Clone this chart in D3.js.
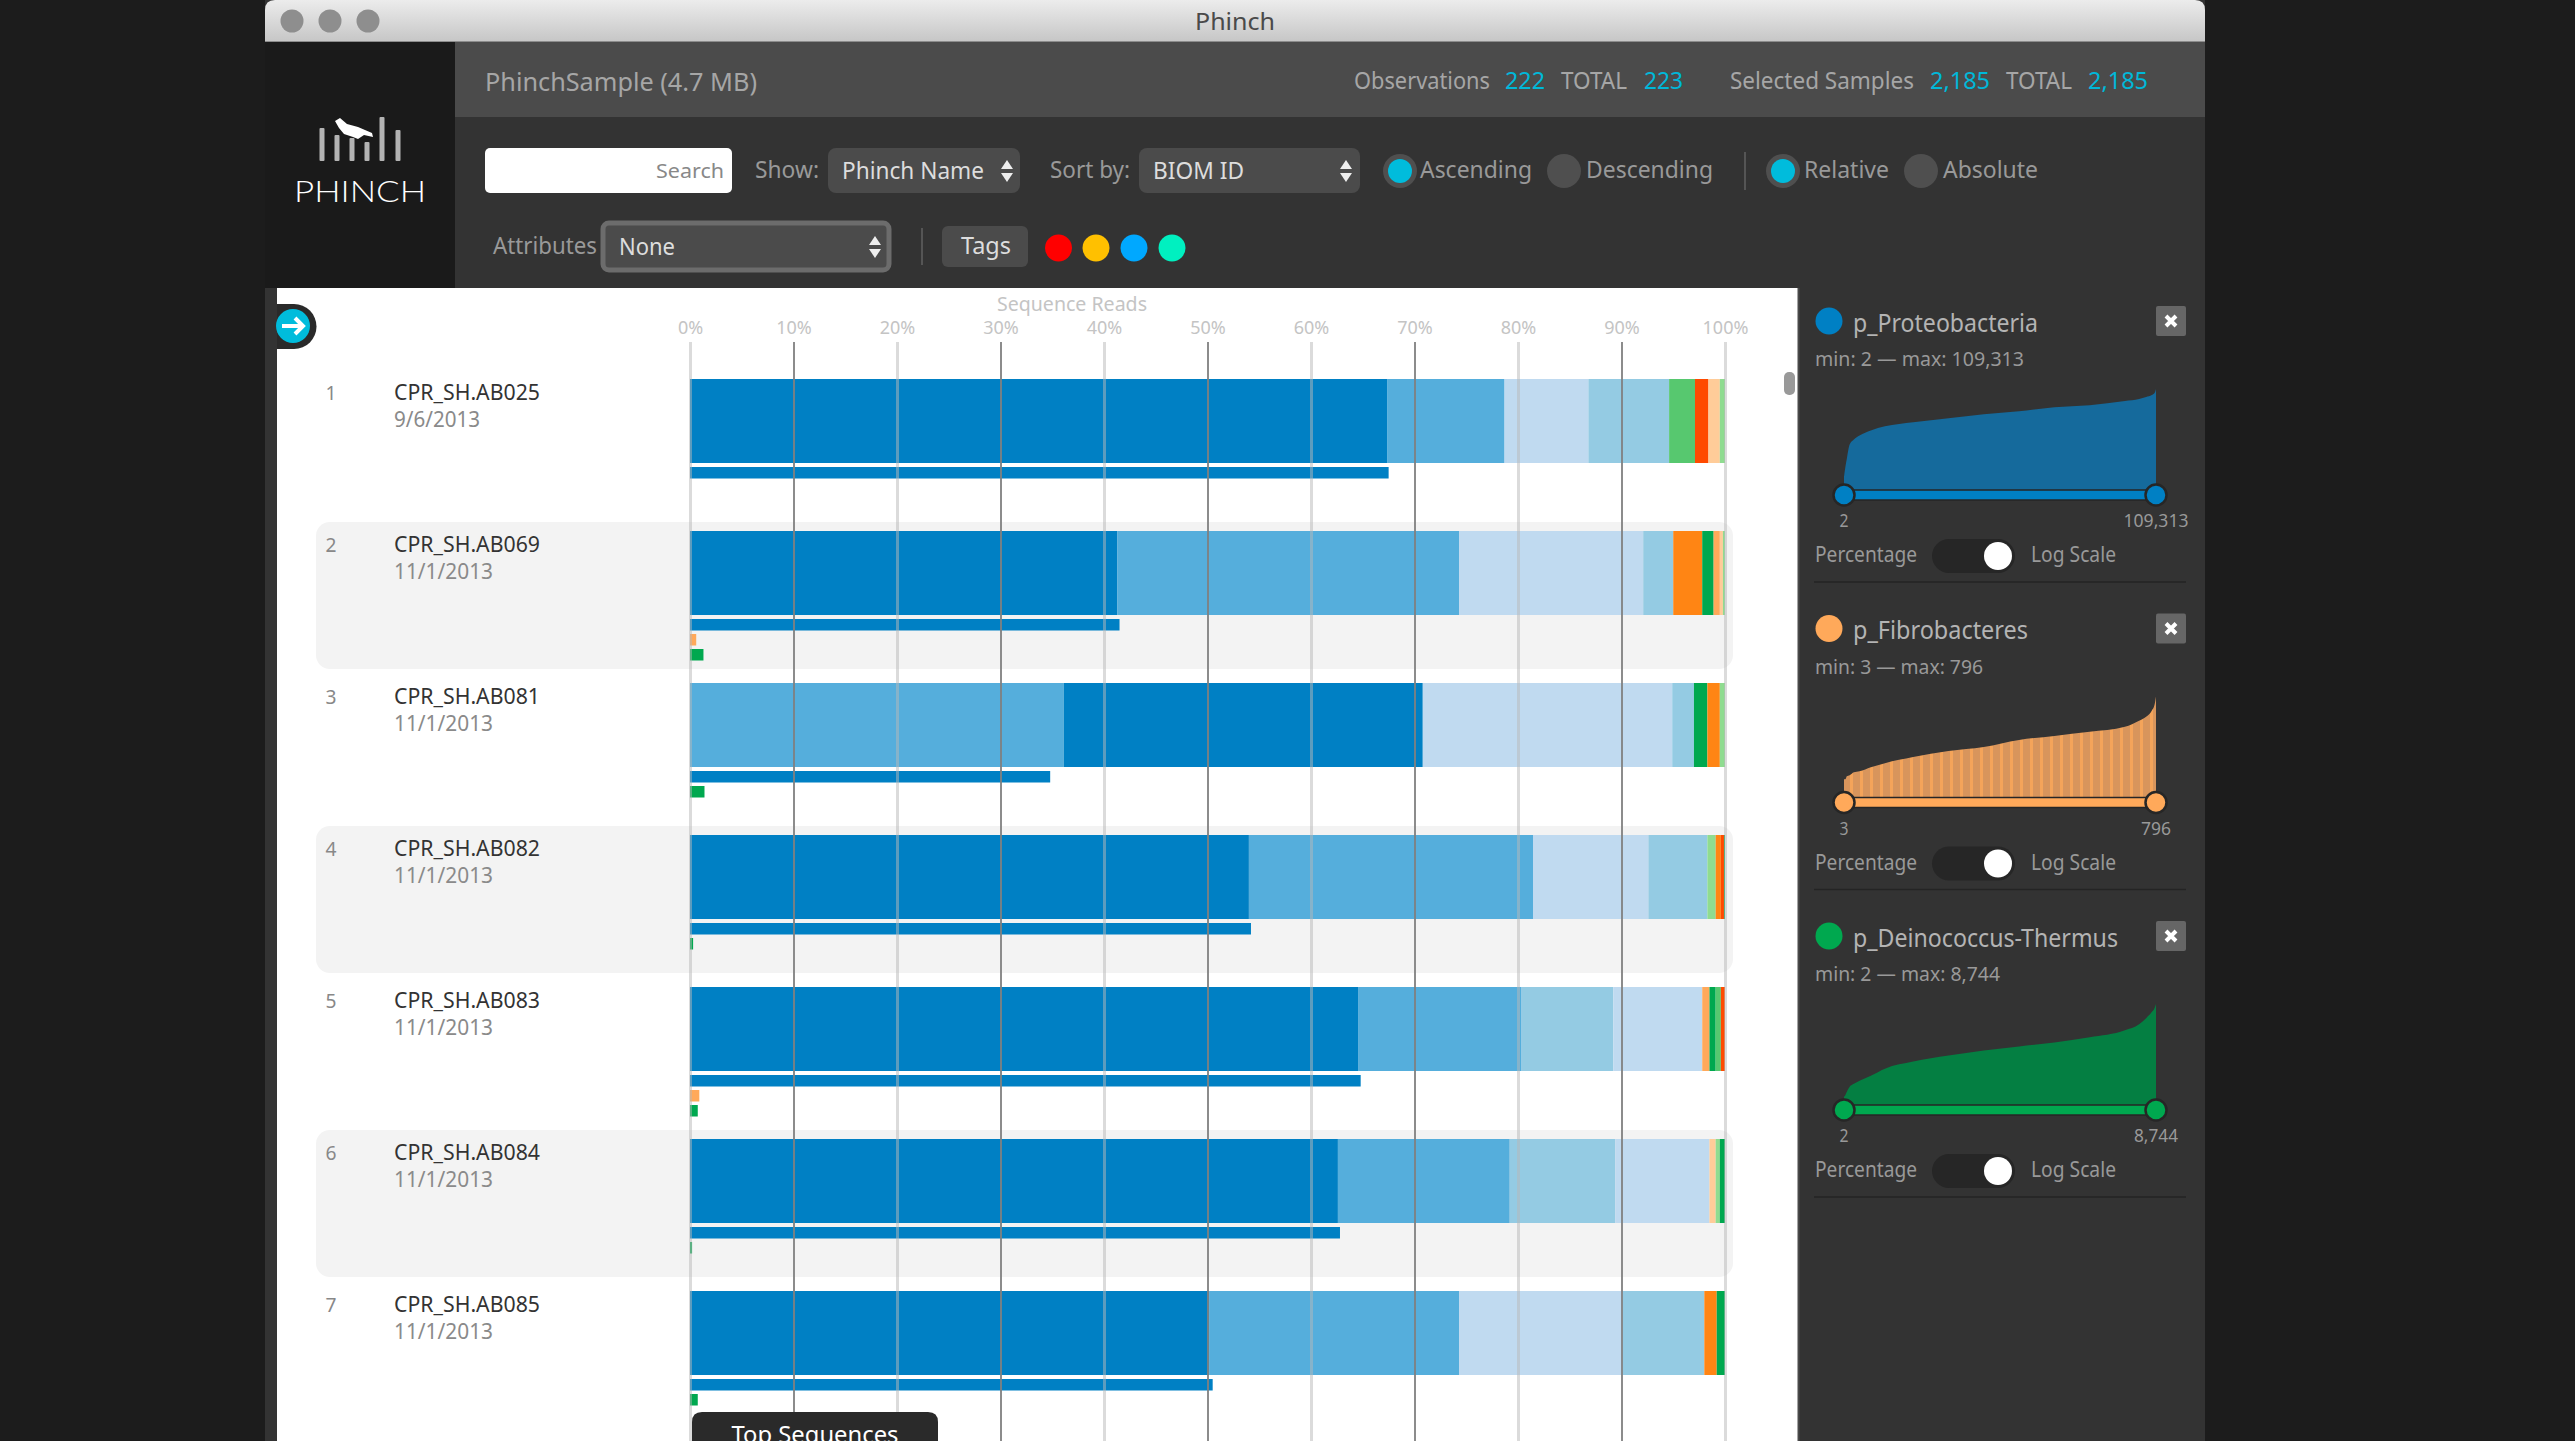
<!DOCTYPE html>
<html>
<head>
<meta charset="utf-8">
<title>Phinch</title>
<script src="https://cdnjs.cloudflare.com/ajax/libs/d3/7.8.5/d3.min.js"></script>
<style>
  html, body { margin: 0; padding: 0; background: #1c1c1c; overflow: hidden; }
  svg { display: block; }
  text { font-family: "Noto Sans", "Open Sans", sans-serif; }
</style>
</head>
<body>
<div id="chart"></div>
<script>
// Chart values
var sampleNames = ["CPR_SH.AB025", "CPR_SH.AB069", "CPR_SH.AB081", "CPR_SH.AB082", "CPR_SH.AB083", "CPR_SH.AB084", "CPR_SH.AB085"];
var sampleDates = ["9/6/2013", "11/1/2013", "11/1/2013", "11/1/2013", "11/1/2013", "11/1/2013", "11/1/2013"];

// each sample: taxa in bar order and their share of reads (%)
var sampleTaxa = [
  ["proteo", "blue2", "blue3", "blue4", "green2", "red", "peach", "green3"],
  ["proteo", "blue2", "blue3", "blue4", "orange", "deino", "fibro", "peach", "green3"],
  ["blue2", "proteo", "blue3", "blue4", "deino", "orange", "green3"],
  ["proteo", "blue2", "blue3", "blue4", "green3", "orange", "red", "deino"],
  ["proteo", "blue2", "blue4", "blue3", "fibro", "deino", "green2", "red"],
  ["proteo", "blue2", "blue4", "blue3", "peach", "green3", "deino"],
  ["proteo", "blue2", "blue3", "blue4", "orange", "deino"]
];
var sampleShares = [
  [67.35, 11.35, 8.1, 7.8, 2.5, 1.3, 1.1, 0.5],
  [41.3, 33.0, 17.8, 2.9, 2.8, 1.1, 0.6, 0.3, 0.2],
  [36.1, 34.7, 24.1, 2.1, 1.3, 1.2, 0.5],
  [54.0, 27.45, 11.15, 5.7, 0.8, 0.5, 0.3, 0.1],
  [64.6, 15.75, 8.85, 8.6, 0.7, 0.6, 0.5, 0.4],
  [62.6, 16.6, 10.2, 9.1, 0.6, 0.4, 0.5],
  [50.2, 24.1, 15.8, 7.9, 1.2, 0.8]
];

// filtered taxa drawn under each bar (%)
var proteoReads = [67.5, 41.5, 34.8, 54.2, 64.8, 62.8, 50.5];
var fibroReads = [0, 0.6, 0, 0, 0.9, 0, 0];
var deinoReads = [0, 1.3, 1.4, 0.3, 0.75, 0.2, 0.75];

var percentTicks = [0, 10, 20, 30, 40, 50, 60, 70, 80, 90, 100];

// side panels: sorted abundance curves, height as % of the plot at each sample rank
var curveRanks = [1, 2, 3, 5, 8, 12, 20, 30, 50, 75, 100, 125, 150, 175, 200, 210, 215, 219, 221, 222];
var proteoCurve = [13, 23, 31, 45, 50, 54, 59, 63, 67, 71, 75, 78, 82, 84, 88, 90, 92, 94, 96, 100];
var fibroCurve = [18, 18, 21, 22, 25, 26, 30, 34, 40, 46, 50, 57, 61, 65, 70, 76, 80, 86, 92, 100];
var deinoCurve = [8, 10, 13, 18, 21, 24, 29, 36, 43, 49, 54, 58, 62, 67, 74, 80, 86, 92, 96, 100];

var panelNames = ["p_Proteobacteria", "p_Fibrobacteres", "p_Deinococcus-Thermus"];
var panelMins = ["2", "3", "2"];
var panelMaxes = ["109,313", "796", "8,744"];

var taxaKeys = ["proteo", "blue2", "blue3", "blue4", "green2", "green3", "red", "peach", "orange", "deino", "fibro"];
var taxaColors = ["#0080c4", "#55aedc", "#c0daf0", "#94cbe3", "#57c86f", "#8fdc90", "#ff4a00", "#ffcc99", "#ff8514", "#00a84f", "#ffa95a"];
var color = d3.scaleOrdinal().domain(taxaKeys).range(taxaColors);

// Set up SVG frame
var svgWidth = 2575;
var svgHeight = 1441;

var svg = d3.select("#chart")
            .append("svg")
            .attr("width", svgWidth)
            .attr("height", svgHeight);

var defs = svg.append("defs");

var titleGradient = defs.append("linearGradient")
  .attr("id", "titleGradient")
  .attr("x1", 0).attr("y1", 0).attr("x2", 0).attr("y2", 1);
titleGradient.append("stop").attr("offset", "0%").attr("stop-color", "#ececec");
titleGradient.append("stop").attr("offset", "100%").attr("stop-color", "#c6c6c6");

var stripes = defs.append("pattern")
  .attr("id", "orangeStripes")
  .attr("patternUnits", "userSpaceOnUse")
  .attr("width", 10).attr("height", 10);
stripes.append("rect").attr("width", 10).attr("height", 10).attr("fill", "#d8955c");
stripes.append("rect").attr("width", 3).attr("height", 10).attr("fill", "#f4a45a");

// text helper, the width is forced to what the picture shows
function label(parent, str, x, y, size, fill, w, anchor) {
  var t = parent.append("text")
    .attr("x", x)
    .attr("y", y)
    .attr("dy", "0.35em")
    .attr("font-size", size + "px")
    .attr("fill", fill)
    .attr("text-anchor", anchor || "start")
    .text(str);
  if (w) {
    t.attr("textLength", w).attr("lengthAdjust", "spacingAndGlyphs");
  }
  return t;
}

function box(parent, x, y, w, h, r, fill) {
  return parent.append("rect")
    .attr("x", x).attr("y", y)
    .attr("width", w).attr("height", h)
    .attr("rx", r).attr("ry", r)
    .attr("fill", fill);
}

// Window chrome
box(svg, 265, 0, 1940, 1441, 0, "#333333");
svg.append("path")
  .attr("d", "M265,42 V10 Q265,0 275,0 H2195 Q2205,0 2205,10 V42 Z")
  .attr("fill", "url(#titleGradient)");
svg.append("line")
  .attr("x1", 265).attr("x2", 2205).attr("y1", 41.5).attr("y2", 41.5)
  .attr("stroke", "#8c8c8c").attr("stroke-width", 1);
[292, 330, 368].forEach(function(cx) {
  svg.append("circle").attr("cx", cx).attr("cy", 21).attr("r", 11.5).attr("fill", "#8e8e8e");
});
label(svg, "Phinch", 1235, 22, 24, "#4a4a4a", 80, "middle");

// Logo
box(svg, 265, 42, 190, 246, 0, "#1a1a1a");
var logoBars = svg.append("g");
[[322, 128], [337, 135], [352, 138], [367, 142], [382, 117], [398, 130]].forEach(function(b) {
  box(logoBars, b[0] - 2.5, b[1], 5, 161 - b[1], 1, "#b4b4b4");
});
svg.append("path")
  .attr("d", "M335,121 L340,118 L347,124 L358,127 L372,133 L373,137 L364,135 L358,139 L353,137 L344,134 L339,128 Z")
  .attr("fill", "#ffffff");
label(svg, "PHINCH", 294, 192, 29, "#ffffff", 132)
  .style("font-family", "Lato")
  .attr("font-weight", 300);

// Header bar
box(svg, 455, 42, 1750, 75, 0, "#4b4b4b");
label(svg, "PhinchSample (4.7 MB)", 485, 82, 25, "#a6a6a6", 272);
label(svg, "Observations", 1354, 81, 23, "#a6a6a6", 136);
label(svg, "222", 1505, 81, 23, "#00b8d9", 40);
label(svg, "TOTAL", 1561, 81, 23, "#a6a6a6", 66);
label(svg, "223", 1644, 81, 23, "#00b8d9", 39);
label(svg, "Selected Samples", 1730, 81, 23, "#a6a6a6", 184);
label(svg, "2,185", 1930, 81, 23, "#00b8d9", 60);
label(svg, "TOTAL", 2006, 81, 23, "#a6a6a6", 66);
label(svg, "2,185", 2088, 81, 23, "#00b8d9", 60);

// Controls
box(svg, 485, 148, 247, 45, 5, "#ffffff");
label(svg, "Search", 656, 171, 20, "#888888", 68);
label(svg, "Show:", 755, 170, 23, "#999999", 64);
box(svg, 828, 148, 192, 45, 8, "#4b4b4b");
label(svg, "Phinch Name", 842, 171, 24, "#dddddd", 142);
label(svg, "Sort by:", 1050, 170, 23, "#999999", 80);
box(svg, 1139, 148, 221, 45, 8, "#4b4b4b");
label(svg, "BIOM ID", 1153, 171, 24, "#dddddd", 91);

function selectArrows(cx, cy) {
  var g = svg.append("g").attr("fill", "#eeeeee");
  g.append("path").attr("d", `M${cx - 6},${cy - 2} L${cx},${cy - 11} L${cx + 6},${cy - 2} Z`);
  g.append("path").attr("d", `M${cx - 6},${cy + 2} L${cx},${cy + 11} L${cx + 6},${cy + 2} Z`);
}
selectArrows(1007, 171);
selectArrows(1346, 171);

function radio(cx, on) {
  svg.append("circle").attr("cx", cx).attr("cy", 171).attr("r", 17).attr("fill", "#4f4f4f");
  if (on) {
    svg.append("circle").attr("cx", cx).attr("cy", 171).attr("r", 12).attr("fill", "#00bcdc");
  }
}
radio(1400, true);
label(svg, "Ascending", 1420, 170, 23, "#999999", 112);
radio(1564, false);
label(svg, "Descending", 1586, 170, 23, "#999999", 127);
svg.append("line").attr("x1", 1745).attr("x2", 1745).attr("y1", 152).attr("y2", 190).attr("stroke", "#555555").attr("stroke-width", 2);
radio(1783, true);
label(svg, "Relative", 1804, 170, 23, "#999999", 85);
radio(1921, false);
label(svg, "Absolute", 1943, 170, 23, "#999999", 95);

label(svg, "Attributes", 493, 246, 23, "#999999", 104);
box(svg, 603, 223, 286, 47, 6, "#4b4b4b")
  .attr("stroke", "#6c6c6c").attr("stroke-width", 5);
label(svg, "None", 619, 247, 24, "#dddddd", 56);
selectArrows(875, 247);
svg.append("line").attr("x1", 922).attr("x2", 922).attr("y1", 228).attr("y2", 265).attr("stroke", "#555555").attr("stroke-width", 2);
box(svg, 942, 226, 86, 41, 6, "#4b4b4b");
label(svg, "Tags", 961, 246, 23, "#dddddd", 50);
[[1058.5, "#ff0000"], [1096, "#ffc000"], [1134, "#00a8ff"], [1172, "#00f0c0"]].forEach(function(d) {
  svg.append("circle").attr("cx", d[0]).attr("cy", 248).attr("r", 13.5).attr("fill", d[1]);
});

// Chart area
box(svg, 277, 288, 1521, 1153, 0, "#ffffff");
svg.append("line").attr("x1", 1798.5).attr("x2", 1798.5).attr("y1", 288).attr("y2", 1441).attr("stroke", "#4a4a4a").attr("stroke-width", 2);

var xScale = d3.scaleLinear().domain([0, 100]).range([690, 1725]);

var rowTop = 379;
var rowStep = 152;
var barHeight = 84;

var rowsGroup = svg.append("g");

var rows = rowsGroup.selectAll("g")
  .data(sampleNames)
  .enter()
  .append("g")
  .attr("transform", (d, i) => `translate(0, ${rowTop + i * rowStep})`);

rows.filter((d, i) => i % 2 === 1)
  .append("rect")
  .attr("x", 316)
  .attr("y", -9)
  .attr("width", 1417)
  .attr("height", 147)
  .attr("rx", 14)
  .attr("fill", "#f3f3f3");

rows.each(function(name, i) {
  var row = d3.select(this);

  label(row, String(i + 1), 331, 14, 20, "#888888", 11, "middle");
  label(row, name, 394, 13, 22, "#333333", 146);
  label(row, sampleDates[i], 394, 41, 21, "#8a8a8a", sampleDates[i].length === 8 ? 86 : 99);

  // stacked bar
  var ends = Array.from(d3.cumsum(sampleShares[i]));
  row.selectAll("rect.segment")
    .data(sampleTaxa[i])
    .enter()
    .append("rect")
    .attr("class", "segment")
    .attr("x", (t, j) => xScale(j === 0 ? 0 : ends[j - 1]))
    .attr("y", 0)
    .attr("width", (t, j) => xScale(ends[j]) - xScale(j === 0 ? 0 : ends[j - 1]))
    .attr("height", barHeight)
    .attr("fill", t => color(t));

  // filtered taxa under the bar, empty ones take no slot
  var filtered = [["proteo", proteoReads[i]], ["fibro", fibroReads[i]], ["deino", deinoReads[i]]]
    .filter(d => d[1] > 0);
  row.selectAll("rect.reads")
    .data(filtered)
    .enter()
    .append("rect")
    .attr("class", "reads")
    .attr("x", xScale(0))
    .attr("y", (d, j) => 88 + j * 15)
    .attr("width", d => xScale(d[1]) - xScale(0))
    .attr("height", 11.5)
    .attr("fill", d => color(d[0]));
});

// Axis labels
var topAxis = d3.axisTop(xScale)
  .tickValues(percentTicks)
  .tickFormat(d => d + "%")
  .tickSize(0)
  .tickPadding(8);

var axisGroup = svg.append("g")
  .attr("transform", "translate(0, 342)")
  .call(topAxis);
axisGroup.select(".domain").remove();
axisGroup.selectAll("text")
  .attr("fill", "#c4c4c4")
  .attr("font-size", "18px");

label(svg, "Sequence Reads", 1072, 304, 19, "#c4c4c4", 150, "middle");

// grid lines sit over the bars
var gridAxis = d3.axisBottom(xScale)
  .tickValues(percentTicks)
  .tickSize(1441 - 342)
  .tickFormat("");

var gridGroup = svg.append("g")
  .attr("class", "grid")
  .attr("transform", "translate(0, 342)")
  .call(gridAxis);
gridGroup.select(".domain").remove();
gridGroup.selectAll("line")
  .attr("stroke", (d, i) => i % 2 === 0 ? "#b8b8b8" : "#7f7f7f")
  .attr("stroke-opacity", (d, i) => i % 2 === 0 ? 0.5 : 0.9)
  .attr("stroke-width", (d, i) => i % 2 === 0 ? 3 : 2);

// Scroll thumb
box(svg, 1784, 372, 11, 23, 5, "#999999");

// Expand arrow
svg.append("path")
  .attr("d", "M277,304 H294 A22.5,22.5 0 0 1 294,349 H277 Z")
  .attr("fill", "#2a2a2a");
svg.append("circle").attr("cx", 293).attr("cy", 326).attr("r", 17).attr("fill", "#00bcdc");
svg.append("path")
  .attr("d", "M282,326 H303 M295,318 L303,326 L295,334")
  .attr("fill", "none")
  .attr("stroke", "#ffffff")
  .attr("stroke-width", 4);

// Top Sequences tab, cropped by the bottom of the window as in the picture
svg.append("path")
  .attr("d", "M692,1441 V1422 Q692,1412 702,1412 H928 Q938,1412 938,1422 V1441 Z")
  .attr("fill", "#2a2a2a");
label(svg, "Top Sequences", 815, 1435, 24, "#ffffff", 167, "middle");

// Side panels
var panelX = d3.scaleLinear().domain([1, 222]).range([1844, 2156]);
var panelY = d3.scaleLinear().domain([0, 100]).range([490, 389]);

var panelArea = d3.area()
  .x((d, i) => panelX(curveRanks[i]))
  .y0(panelY(0))
  .y1(d => panelY(d))
  .curve(d3.curveMonotoneX);

var panelCurves = [proteoCurve, fibroCurve, deinoCurve];
var panelColors = [color("proteo"), color("fibro"), color("deino")];
var panelFills = ["#156a9c", "url(#orangeStripes)", "#047f42"];
var panelStep = 307.5;

panelNames.forEach(function(name, i) {
  var p = svg.append("g").attr("transform", `translate(0, ${i * panelStep})`);

  p.append("circle").attr("cx", 1829).attr("cy", 321).attr("r", 13.5).attr("fill", panelColors[i]);
  label(p, name, 1853, 323, 25, "#b4b4b4", [185, 175, 265][i]);
  label(p, `min: ${panelMins[i]} \u2014 max: ${panelMaxes[i]}`, 1815, 359, 20, "#999999", [209, 168, 185][i]);

  box(p, 2156, 306, 30, 30, 2, "#666666");
  p.append("path")
    .attr("d", "M2166,316 L2176,326 M2176,316 L2166,326")
    .attr("stroke", "#ffffff")
    .attr("stroke-width", 4);

  p.append("path")
    .datum(panelCurves[i])
    .attr("d", panelArea)
    .attr("fill", panelFills[i]);

  // range slider
  p.append("rect")
    .attr("x", panelX(1)).attr("y", 490)
    .attr("width", panelX(222) - panelX(1)).attr("height", 10)
    .attr("fill", panelColors[i])
    .attr("stroke", "#262626").attr("stroke-width", 1.5);
  [1, 222].forEach(function(r) {
    p.append("circle")
      .attr("cx", panelX(r)).attr("cy", 495).attr("r", 10.5)
      .attr("fill", panelColors[i])
      .attr("stroke", "#262626").attr("stroke-width", 2.5);
  });
  label(p, panelMins[i], panelX(1), 521, 18, "#999999", 9, "middle");
  label(p, panelMaxes[i], panelX(222), 521, 18, "#999999", [65, 30, 44][i], "middle");

  label(p, "Percentage", 1815, 555, 21, "#999999", 102);
  box(p, 1932, 539, 83, 34, 17, "#262626");
  p.append("circle").attr("cx", 1998).attr("cy", 556).attr("r", 14).attr("fill", "#ffffff");
  label(p, "Log Scale", 2031, 555, 21, "#999999", 85);

  p.append("line")
    .attr("x1", 1814).attr("x2", 2186)
    .attr("y1", 582).attr("y2", 582)
    .attr("stroke", "#242424").attr("stroke-width", 1.5);
});
</script>
</body>
</html>
